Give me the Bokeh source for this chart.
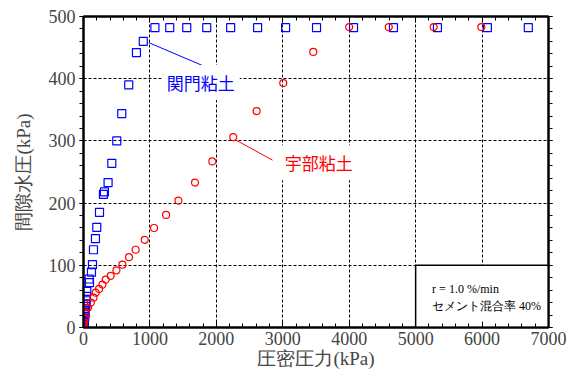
from bokeh.plotting import figure
from bokeh.models import (Range1d, LinearAxis, SingleIntervalTicker, Label,
                          CustomJSTickFormatter)
from bokeh.embed import file_html
from bokeh.resources import INLINE

# --- data ---
kanmon_x = [2, 4, 6, 8, 10, 12, 14, 16, 18, 20, 22, 25, 28, 32, 36, 40, 45, 50,
            85, 90, 120, 135, 150, 180, 200, 241, 300, 315, 370, 426, 501, 576, 681, 797, 900,
            1075, 1298, 1554, 1855, 2215, 2621, 3042, 3508, 4065, 4666, 5328, 6080, 6696]
kanmon_y = [0, 2, 4, 6, 8, 10, 12, 15, 18, 21, 24, 27, 30, 34, 38, 43, 50, 58,
            78, 72, 89, 101, 125, 143, 161, 185, 214, 218, 233, 264, 300, 344, 390, 442, 460,
            482, 482, 482, 482, 482, 482, 482, 482, 482, 482, 482, 482, 482]

ube_x = [0, 5, 10, 20, 35, 70, 110, 150, 185, 235, 285, 335, 410, 496, 586, 686, 785,
         922, 1062, 1243, 1429, 1679, 1940, 2255, 2606, 3007, 3459, 4000, 4596, 5272, 5989]
ube_y = [0, 4, 8, 15, 24, 32, 40, 48, 56, 62, 69, 77, 83, 92, 101, 113, 125,
         141, 160, 181, 204, 233, 267, 306, 348, 393, 443, 483, 483, 483, 483]

x_label = "圧密圧力(kPa)"
y_label = "間隙水圧(kPa)"
kanmon_name = "関門粘土"
ube_name = "宇部粘土"
cond_line1 = "r = 1.0 %/min"
cond_line2 = "セメント混合率  40%"

# annotation geometry (data units)
kanmon_leader_x = [982, 1795]
kanmon_leader_y = [458, 421]
ube_leader_x = [2300, 2846]
ube_leader_y = [301, 269]
box_left, box_right, box_bottom, box_top = 5000, 7000, 0, 100

SERIF = "Liberation Serif"
JP = "Noto Sans CJK JP"

p = figure(width=571, height=371, output_backend="svg", toolbar_location=None,
           x_range=Range1d(0, 7000), y_range=Range1d(0, 500),
           min_border_left=83, min_border_right=23, min_border_top=16, min_border_bottom=43,
           background_fill_color="white", border_fill_color="white")
p.outline_line_color = "black"
p.outline_line_width = 2

xt = SingleIntervalTicker(interval=1000, num_minor_ticks=5)
yt = SingleIntervalTicker(interval=100, num_minor_ticks=5)

for ax in p.xaxis:
    ax.ticker = xt
    ax.axis_label = x_label
    ax.axis_label_text_font = SERIF
    ax.axis_label_text_font_size = "19px"
    ax.axis_label_text_font_style = "normal"
    ax.axis_label_standoff = 0
    ax.major_label_text_font = SERIF
    ax.major_label_text_font_size = "18px"
    ax.major_label_standoff = 4
    ax.major_tick_in = 6
    ax.major_tick_out = 0
    ax.minor_tick_in = 4
    ax.minor_tick_out = 0
    ax.axis_line_width = 2
for ax in p.yaxis:
    ax.ticker = yt
    ax.axis_label = y_label
    ax.axis_label_text_font = SERIF
    ax.axis_label_text_font_size = "19px"
    ax.axis_label_text_font_style = "normal"
    ax.axis_label_standoff = 12
    ax.major_label_text_font = SERIF
    ax.major_label_text_font_size = "18px"
    ax.major_label_standoff = 4
    ax.major_tick_in = 0
    ax.major_tick_out = 4
    ax.minor_tick_in = 0
    ax.minor_tick_out = 4
    ax.axis_line_width = 2

blank = CustomJSTickFormatter(code="return '';")
top = LinearAxis(ticker=SingleIntervalTicker(interval=1000, num_minor_ticks=5),
                 formatter=blank, major_label_standoff=0,
                 major_tick_in=6, major_tick_out=0, minor_tick_in=4, minor_tick_out=0,
                 axis_line_width=2)
right = LinearAxis(ticker=SingleIntervalTicker(interval=100, num_minor_ticks=5),
                   formatter=blank, major_label_standoff=0,
                   major_tick_in=0, major_tick_out=4, minor_tick_in=0, minor_tick_out=4,
                   axis_line_width=2)
p.add_layout(top, "above")
p.add_layout(right, "right")

for g in (p.xgrid, p.ygrid):
    g.grid_line_color = "black"
    g.grid_line_dash = "3 2"
    g.grid_line_width = 1
p.xgrid.ticker = xt
p.ygrid.ticker = yt

# condition box
p.quad(left=[box_left], right=[box_right], bottom=[box_bottom], top=[box_top],
       fill_color="white", line_color="black", line_width=1.5)

# data
p.scatter(kanmon_x, kanmon_y, marker="square", size=8, fill_color=None,
          line_color="#0000ff", line_width=1.2)
p.scatter(ube_x, ube_y, marker="circle", size=7, fill_color=None,
          line_color="#ff0000", line_width=1.2)

# leader lines
p.line(kanmon_leader_x, kanmon_leader_y, line_color="#0000ff", line_width=1)
p.line(ube_leader_x, ube_leader_y, line_color="#ff0000", line_width=1)

p.add_layout(Label(x=1765, y=394, text=kanmon_name, text_color="#0000ff",
                   text_font=JP, text_font_size="17px", text_align="center",
                   text_baseline="middle", background_fill_color="white", padding=5))
p.add_layout(Label(x=3540, y=265, text=ube_name, text_color="#ff0000",
                   text_font=JP, text_font_size="17px", text_align="center",
                   text_baseline="middle", background_fill_color="white", padding=5))
p.add_layout(Label(x=5248, y=62, text=cond_line1, text_color="black",
                   text_font=SERIF, text_font_size="12px", text_align="left",
                   text_baseline="middle"))
p.add_layout(Label(x=5248, y=34, text=cond_line2, text_color="black",
                   text_font=SERIF, text_font_size="12px", text_align="left",
                   text_baseline="middle"))

open("out.html", "w").write(file_html(p, INLINE))
